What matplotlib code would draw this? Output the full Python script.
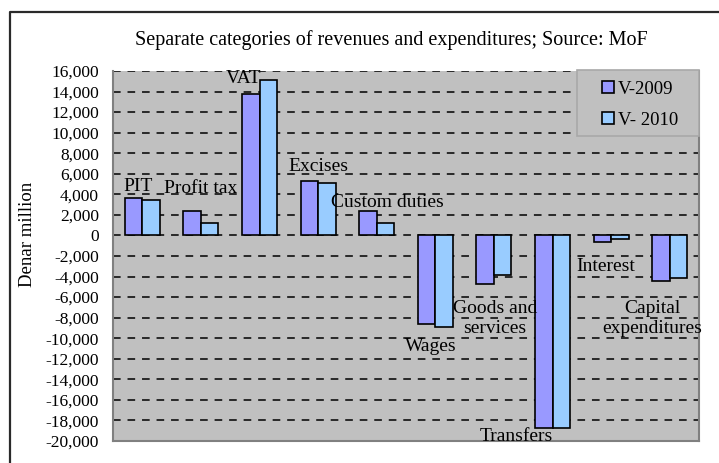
import matplotlib
matplotlib.use('Agg')
import matplotlib.pyplot as plt
from matplotlib.lines import Line2D
from matplotlib.patches import Rectangle
from matplotlib.ticker import FuncFormatter
import numpy as np

plt.rcParams['font.family'] = ['Liberation Serif', 'DejaVu Serif']

categories = ['PIT', 'Profit tax', 'VAT', 'Excises', 'Custom duties', 'Wages',
              'Goods and\nservices', 'Transfers', 'Interest', 'Capital\nexpenditures']
v2009 = [3640, 2400, 13750, 5260, 2400, -8620, -4730, -18740, -670, -4400]
v2010 = [3440, 1240, 15120, 5100, 1240, -8910, -3820, -18740, -380, -4140]

# where the category labels sit (data coords)
label_x = [-0.07, 1.0, 1.72, 3.0, 4.19, 4.93, 6.02, 6.39, 7.90, 8.70]
label_y = [4800, 4600, 15300, 6750, 3250, -10850, -8080, -19600, -3070, -8080]

fig = plt.figure(figsize=(7.19, 4.63), dpi=100)
ax = fig.add_axes([113/719, 22/463, 586/719, 370/463])
ax.set_facecolor('#C0C0C0')

x = np.arange(len(categories))
w = 0.3
ax.bar(x - w/2, v2009, w, color='#9999FF', edgecolor='black', linewidth=1.2, label='V-2009', zorder=3)
ax.bar(x + w/2, v2010, w, color='#99CCFF', edgecolor='black', linewidth=1.2, label='V- 2010', zorder=3)

for cx, cy, name in zip(label_x, label_y, categories):
    ax.text(cx, cy, name, ha='center', va='center', fontsize=14, linespacing=1.3, zorder=4)

ax.set_xlim(-0.5, 9.5)
ax.set_ylim(-20000, 16000)
ax.set_yticks(np.arange(-20000, 16001, 2000))
ax.yaxis.set_major_formatter(FuncFormatter(lambda v, p: f'{int(v):,}'))
ax.set_xticks([])
ax.tick_params(axis='y', length=0, pad=10, labelsize=12.5)
ax.grid(axis='y', color='black', linestyle=(0, (5, 4.5)), linewidth=1.1, zorder=1)

for s in ['left', 'right', 'bottom']:
    ax.spines[s].set_color('#808080')
    ax.spines[s].set_linewidth(1.5)
ax.spines['top'].set_visible(False)

# legend box drawn by hand (Excel-style, with wide side padding)
ax.add_patch(Rectangle((0.7918, 0.8243), 0.2082, 0.1784, transform=ax.transAxes,
                       facecolor='#C0C0C0', edgecolor='#A8A8A8', linewidth=1.2,
                       zorder=5, clip_on=False))
leg = ax.legend(loc='center', bbox_to_anchor=(0.900, 0.909), borderaxespad=0,
                fontsize=13.5, handlelength=0.6, handleheight=0.6, labelspacing=0.75,
                frameon=False, borderpad=0, handletextpad=0.25)
leg.set_zorder(6)

fig.text(391/719, 1 - 40/463, 'Separate categories of revenues and expenditures; Source: MoF',
         ha='center', va='center', fontsize=14.5)
fig.text(28/719, 1 - 234/463, 'Denar million', ha='center', va='center',
         rotation=90, fontsize=13.5)

# outer chart frame
fx = 10/719
fy = 1 - 12/463
fig.add_artist(Line2D([fx, fx, 1.0], [0, fy, fy], transform=fig.transFigure,
                      color='#2a2a2a', linewidth=1.6))

fig.savefig('out.png', dpi=100)
